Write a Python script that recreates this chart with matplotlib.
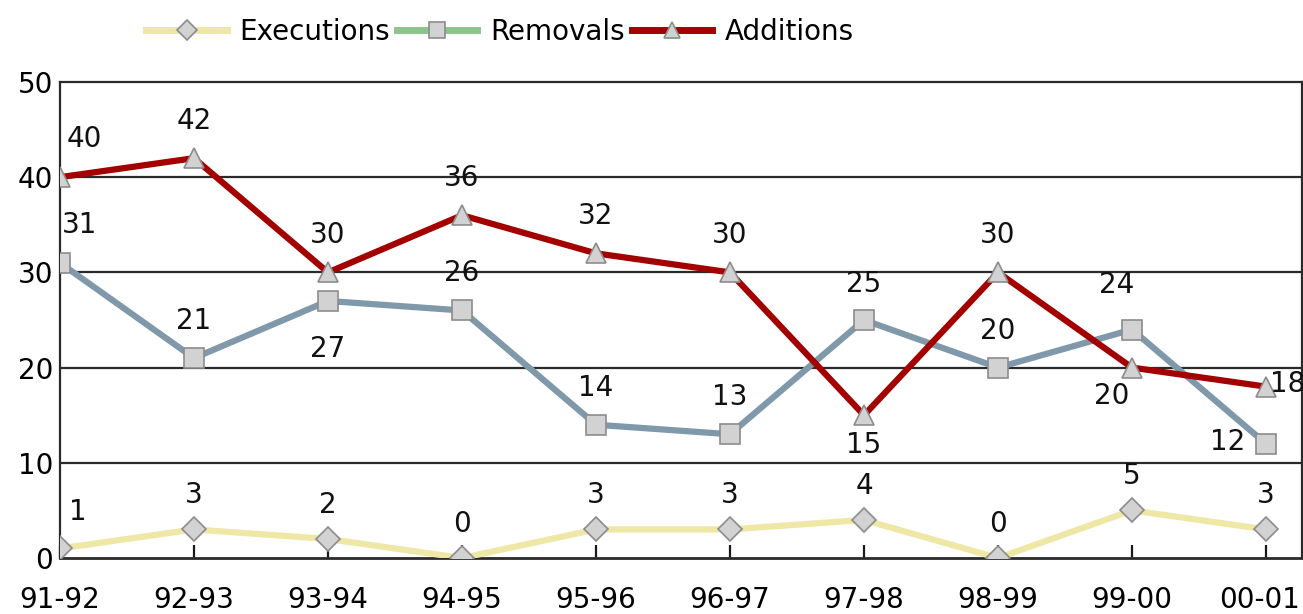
import matplotlib
matplotlib.use('Agg')
import matplotlib.pyplot as plt
from matplotlib.lines import Line2D
from matplotlib.transforms import ScaledTranslation

seasons = ['91-92', '92-93', '93-94', '94-95', '95-96',
           '96-97', '97-98', '98-99', '99-00', '00-01']
executions = [1, 3, 2, 0, 3, 3, 4, 0, 5, 3]
removals = [31, 21, 27, 26, 14, 13, 25, 20, 24, 12]
additions = [40, 42, 30, 36, 32, 30, 15, 30, 20, 18]

# label offsets in pixels (dx, dy) for the value annotations
exec_off = [(18, 36)] + [(0, 34)] * 9
rem_off = [(20, 38), (0, 37), (0, -48), (0, 37), (0, 37),
           (0, 37), (0, 36), (0, 37), (-15, 45), (-38, 2)]
add_off = [(24, 38), (0, 37), (0, 37), (0, 37), (0, 37),
           (0, 37), (0, -30), (0, 37), (-20, -28), (22, 3)]

plt.rcParams['font.family'] = 'DejaVu Sans'
fs = 20

fig = plt.figure(figsize=(13.03, 6.14), dpi=100)
ax = fig.add_axes([60 / 1303, 1 - 558 / 614, 1242 / 1303, 476 / 614])

x = list(range(len(seasons)))
mk = dict(markerfacecolor='#d2d2d2', markeredgecolor='#8c8c8c', markeredgewidth=1.2)

ax.plot(x, executions, color='#efe7a6', lw=4.5, marker='D', ms=12, zorder=3, **mk)
ax.plot(x, removals, color='#7f98aa', lw=4.5, marker='s', ms=15, zorder=4, **mk)
ax.plot(x, additions, color='#a30000', lw=4.5, marker='^', ms=14, zorder=5, **mk)

px = 72 / 100  # pixels -> points
for vals, offs in ((executions, exec_off), (removals, rem_off), (additions, add_off)):
    for i, (v, (dx, dy)) in enumerate(zip(vals, offs)):
        ax.annotate(str(v), (i, v), xytext=(dx * px, dy * px), textcoords='offset points',
                    ha='center', va='center', fontsize=fs, color='#111111', zorder=6)

ax.set_xlim(0, 1242 / 134)
ax.set_ylim(0, 50)
ax.set_yticks([0, 10, 20, 30, 40, 50])
for y in (10, 20, 30, 40):
    ax.axhline(y, color='#2a2a2a', lw=1.6, zorder=1)
for s in ax.spines.values():
    s.set_color('#2a2a2a')
    s.set_linewidth(1.6)
ax.spines['bottom'].set_linewidth(2)

ax.set_xticks(x)
ax.set_xticklabels(seasons)
ax.tick_params(axis='x', direction='in', length=9.5, width=1.6, color='#1a1a1a',
               pad=20, labelsize=fs)
ax.tick_params(axis='y', length=0, pad=5, labelsize=fs)
last = ax.get_xticklabels()[-1]
last.set_transform(last.get_transform() + ScaledTranslation(-0.06, 0, fig.dpi_scale_trans))

handles = [
    Line2D([], [], color='#efe7a6', lw=5, marker='D', ms=10, **mk),
    Line2D([], [], color='#8cc58c', lw=5, marker='s', ms=12, **mk),
    Line2D([], [], color='#a30000', lw=5, marker='^', ms=12, **mk),
]
fig.legend(handles, ['Executions', 'Removals', 'Additions'], loc='center',
           bbox_to_anchor=(500 / 1303, 1 - 32 / 614), ncol=3, frameon=False,
           fontsize=fs, handlelength=2.9, handletextpad=0.45, columnspacing=0.25)

fig.savefig('out.png', dpi=100)
